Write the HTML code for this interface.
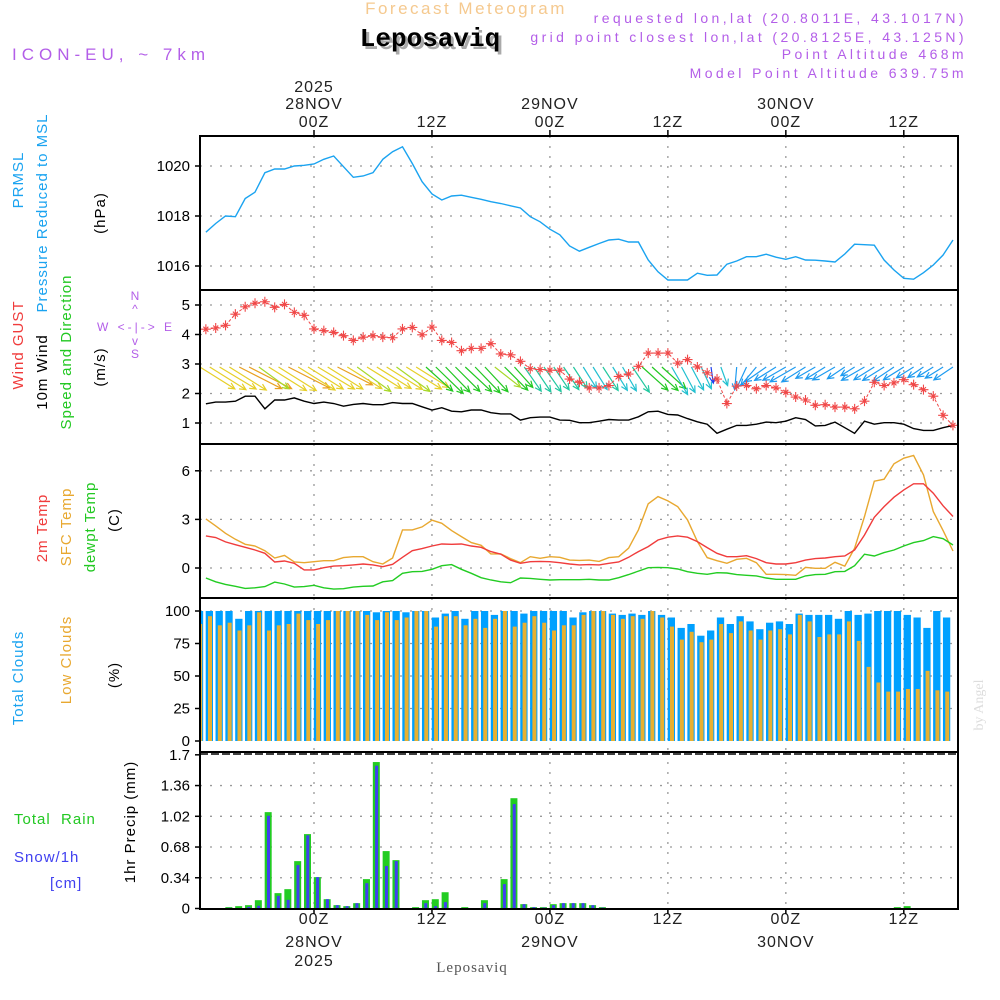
<!DOCTYPE html>
<html><head><meta charset="utf-8"><style>
html,body{margin:0;padding:0;background:#fff;}
svg{display:block;font-family:"Liberation Sans",sans-serif;}
.t{letter-spacing:1px;}
</style></head><body>
<svg id="chart" width="1000" height="1000" viewBox="0 0 1000 1000" xmlns="http://www.w3.org/2000/svg">
<rect width="1000" height="1000" fill="#fff"/>
<text x="466" y="14" font-size="17" fill="#f5c98f" text-anchor="middle" style="letter-spacing:2.5px">Forecast Meteogram</text>
<text x="433" y="49" font-size="26" font-weight="bold" fill="#aaa" text-anchor="middle" font-family="Liberation Mono, monospace">Leposaviq</text>
<text x="430" y="46" font-size="26" font-weight="bold" fill="#000" text-anchor="middle" font-family="Liberation Mono, monospace">Leposaviq</text>
<text x="12" y="60" font-size="17" fill="#b35ee8" style="letter-spacing:5px">ICON-EU, ~ 7km</text>
<g font-size="14" fill="#b35ee8" text-anchor="end" style="letter-spacing:3.4px">
<text x="967" y="23">requested lon,lat (20.8011E, 43.1017N)</text>
<text x="967" y="42">grid point closest lon,lat (20.8125E, 43.125N)</text>
<text x="967" y="59">Point Altitude 468m</text>
<text x="967" y="78">Model Point Altitude 639.75m</text>
</g>
<g id="axes"></g>
<g id="marks"></g>
<g font-size="15" class="t">
<text transform="translate(23,180) rotate(-90)" text-anchor="middle" fill="#1aa3f0">PRMSL</text>
<text transform="translate(47,213) rotate(-90)" text-anchor="middle" fill="#1aa3f0">Pressure Reduced to MSL</text>
<text transform="translate(105,213) rotate(-90)" text-anchor="middle" fill="#000">(hPa)</text>
<text transform="translate(23,345) rotate(-90)" text-anchor="middle" fill="#f03c3c">Wind GUST</text>
<text transform="translate(47,372) rotate(-90)" text-anchor="middle" fill="#000">10m Wind</text>
<text transform="translate(71,352) rotate(-90)" text-anchor="middle" fill="#22c822">Speed and Direction</text>
<text transform="translate(105,367) rotate(-90)" text-anchor="middle" fill="#000">(m/s)</text>
<text transform="translate(47,528) rotate(-90)" text-anchor="middle" fill="#f03c3c">2m Temp</text>
<text transform="translate(71,527) rotate(-90)" text-anchor="middle" fill="#e8a830">SFC Temp</text>
<text transform="translate(95,527) rotate(-90)" text-anchor="middle" fill="#22c822">dewpt Temp</text>
<text transform="translate(119,520) rotate(-90)" text-anchor="middle" fill="#000">(C)</text>
<text transform="translate(23,678) rotate(-90)" text-anchor="middle" fill="#1aa3f0">Total Clouds</text>
<text transform="translate(71,660) rotate(-90)" text-anchor="middle" fill="#e8a830">Low Clouds</text>
<text transform="translate(119,675) rotate(-90)" text-anchor="middle" fill="#000">(%)</text>
<text transform="translate(135,822) rotate(-90)" text-anchor="middle" fill="#000">1hr Precip (mm)</text>
<text x="14" y="824" fill="#22c822" xml:space="preserve">Total  Rain</text>
<text x="14" y="862" fill="#4040f0">Snow/1h</text>
<text x="50" y="888" fill="#4040f0">[cm]</text>
</g>
<g font-size="12" fill="#b35ee8" text-anchor="middle">
<text x="135" y="300">N</text>
<text x="135" y="313">^</text>
<text x="136" y="331" xml:space="preserve" style="letter-spacing:3px">W &lt;-|-&gt; E</text>
<text x="135" y="345">v</text>
<text x="135" y="358">S</text>
</g>
<text transform="translate(983,705) rotate(-90)" text-anchor="middle" font-size="14" fill="#ddd" font-family="Liberation Serif, serif">by Angel</text>
<text x="472" y="972" font-size="15" fill="#555" text-anchor="middle" font-family="Liberation Serif, serif" class="t">Leposaviq</text>
</svg>
<script>
const pressure=[1017.35,1017.7,1018.0,1017.97,1018.7,1018.95,1019.73,1019.88,1019.88,1020.0,1020.03,1020.08,1020.27,1020.4,1019.97,1019.55,1019.6,1019.73,1020.27,1020.57,1020.77,1020.1,1019.37,1018.88,1018.64,1018.8,1018.83,1018.75,1018.67,1018.57,1018.5,1018.41,1018.32,1017.97,1017.77,1017.47,1017.25,1016.8,1016.59,1016.75,1016.9,1017.04,1017.07,1016.96,1016.96,1016.24,1015.77,1015.44,1015.44,1015.44,1015.71,1015.63,1015.64,1016.07,1016.2,1016.37,1016.37,1016.47,1016.35,1016.27,1016.37,1016.24,1016.23,1016.2,1016.16,1016.48,1016.87,1016.85,1016.83,1016.24,1015.84,1015.51,1015.47,1015.73,1016.04,1016.44,1017.04];
const gust=[4.18,4.22,4.31,4.69,4.94,5.06,5.11,4.92,5.02,4.75,4.65,4.19,4.13,4.07,3.96,3.8,3.91,3.96,3.91,3.89,4.19,4.24,3.99,4.25,3.8,3.73,3.45,3.53,3.53,3.69,3.34,3.31,3.09,2.84,2.81,2.79,2.79,2.49,2.38,2.19,2.19,2.27,2.58,2.66,2.92,3.37,3.37,3.37,3.03,3.15,2.9,2.7,2.49,1.66,2.25,2.27,2.16,2.27,2.19,2.04,1.88,1.78,1.6,1.62,1.54,1.54,1.48,1.74,2.38,2.27,2.36,2.47,2.3,2.13,1.91,1.26,0.92];
const wind=[1.65,1.71,1.71,1.74,1.91,1.91,1.48,1.78,1.78,1.85,1.74,1.66,1.71,1.66,1.57,1.63,1.66,1.62,1.62,1.69,1.66,1.66,1.55,1.44,1.52,1.4,1.38,1.44,1.44,1.35,1.31,1.31,1.1,1.18,1.2,1.2,1.1,1.09,1.01,1.01,1.06,1.12,1.1,1.1,1.21,1.38,1.4,1.29,1.27,1.15,1.04,0.96,0.65,0.79,0.92,0.92,0.96,1.03,1.01,1.06,1.18,1.12,0.9,0.92,1.03,0.84,0.65,1.06,0.96,1.01,1.01,0.96,0.81,0.75,0.75,0.84,0.92];
const windBearing=[122,122,121,122,117,117,126,122,122,117,122,122,121,122,117,122,126,122,122,122,126,122,122,132,134,136,135,133,136,137,128,135,138,145,146,145,146,146,147,148,148,147,148,150,146,132,132,132,150,152,152,155,172,160,185,205,220,235,238,240,240,238,240,238,240,236,238,240,238,238,236,238,238,236,238,238,236];
const tempSfc=[3.03,2.6,2.14,1.77,1.46,1.36,1.07,0.62,0.78,0.37,0.33,0.39,0.45,0.45,0.64,0.7,0.7,0.39,0.25,0.62,2.35,2.35,2.54,2.95,2.76,2.31,1.94,1.57,1.4,0.87,0.87,0.58,0.33,0.7,0.6,0.7,0.66,0.49,0.47,0.49,0.41,0.64,0.7,1.22,2.35,3.96,4.41,4.14,3.79,2.97,1.63,0.64,0.45,0.29,0.54,0.6,0.33,-0.39,-0.39,-0.41,-0.45,0.04,-0.02,-0.02,0.35,0.12,1.22,3.18,5.36,5.48,6.43,6.78,6.95,5.75,3.48,2.31,1.05];
const temp2m=[1.98,1.88,1.61,1.44,1.28,1.11,0.91,0.37,0.43,0.29,-0.12,-0.12,0.02,0.12,0.14,0.19,0.25,0.19,0.08,0.23,0.66,1.07,1.2,1.36,1.48,1.46,1.48,1.36,1.28,1.01,0.85,0.49,0.29,0.39,0.41,0.39,0.33,0.25,0.19,0.21,0.19,0.29,0.37,0.66,1.01,1.32,1.73,1.9,1.98,1.9,1.63,1.26,0.91,0.7,0.7,0.76,0.58,0.33,0.25,0.25,0.33,0.49,0.58,0.62,0.7,0.74,1.11,2.04,3.13,3.79,4.37,4.82,5.2,5.2,4.62,3.84,3.18];
const dewpt=[-0.62,-0.85,-1.01,-1.13,-1.26,-1.22,-1.15,-0.87,-0.99,-1.18,-1.15,-1.07,-1.22,-1.3,-1.28,-1.18,-1.13,-1.11,-0.85,-0.78,-0.33,-0.23,-0.21,-0.08,0.14,0.21,-0.08,-0.33,-0.6,-0.74,-0.85,-0.91,-0.62,-0.64,-0.7,-0.74,-0.72,-0.72,-0.72,-0.7,-0.74,-0.74,-0.6,-0.41,-0.19,0.02,0.04,0.02,-0.06,-0.23,-0.33,-0.39,-0.29,-0.31,-0.41,-0.45,-0.49,-0.62,-0.7,-0.7,-0.7,-0.49,-0.41,-0.39,-0.23,-0.21,0.14,0.85,0.74,0.95,1.11,1.36,1.57,1.69,1.94,1.81,1.42];
const totalClouds=[100,100,100,100,94,100,100,100,100,100,100,100,100,100,100,100,100,100,99,100,100,99,100,100,95,98,100,94,100,100,97,100,100,98,100,100,100,100,95,99,100,100,98,97,98,97,100,97,95,87,90,81,85,95,90,96,92,86,91,92,90,98,97,97,97,94,100,97,98,100,100,100,97,95,87,100,95];
const lowClouds=[90,96,89,91,85,89,99,85,89,90,98,93,90,93,100,100,100,97,93,99,93,95,100,100,88,96,96,89,94,87,94,100,88,91,96,91,85,89,89,97,100,100,97,94,96,94,100,95,88,78,84,76,78,90,83,92,85,78,85,86,82,97,92,80,82,82,92,77,57,45,38,38,40,40,54,39,38];
const rain=[0,0,0,0.015,0.026,0.037,0.092,1.066,0.17,0.214,0.524,0.823,0.347,0.103,0.037,0.026,0.059,0.325,1.62,0.635,0.535,0.004,0.015,0.092,0.103,0.18,0,0.015,0,0.092,0.004,0.325,1.22,0.048,0.015,0.015,0.048,0.059,0.059,0.059,0.037,0.015,0.004,0.004,0,0,0,0,0,0,0,0,0,0,0,0,0,0,0,0,0,0,0,0,0,0,0,0,0,0,0,0.015,0.026,0,0,0,0];
const snow=[0,0,0,0.007,0.005,0.018,0.03,1.026,0.14,0.096,0.48,0.81,0.347,0.103,0.037,0.026,0.059,0.28,1.58,0.47,0.524,0.004,0,0.059,0.026,0.07,0,0,0,0.059,0.004,0.27,1.155,0.048,0.015,0.01,0.037,0.059,0.059,0.059,0.037,0.01,0.004,0.004,0,0,0,0,0,0,0,0,0,0,0,0,0,0,0,0,0,0,0,0,0,0,0,0,0,0,0,0,0,0,0,0,0];
const pressureTicks=[1020,1018,1016];
const windTicks=[5,4,3,2,1];
const tempTicks=[6,3,0];
const cloudTicks=[100,75,50,25,0];
const precipTicks=[1.7,1.36,1.02,0.68,0.34,0];
const precipTickLabels=["1.7","1.36","1.02","0.68","0.34","0"];
const timeTicksHours=[0,12,24,36,48,60];
const timeTopLabels=[["2025","28NOV","00Z"],["","","12Z"],["","29NOV","00Z"],["","","12Z"],["","30NOV","00Z"],["","","12Z"]];
const timeBottomLabels=[["00Z","28NOV","2025"],["12Z","",""],["00Z","29NOV",""],["12Z","",""],["00Z","30NOV",""],["12Z","",""]];
const firstHour=-11;

const NS="http://www.w3.org/2000/svg";
const L=200,R=958;
const xH=h=>314+9.83*h;
const xI=i=>xH(i+firstHour);
const yP=v=>166+(1020-v)*25;
const yW=v=>305+(5-v)*29.5;
const yT=v=>568-v*16.2;
const yC=v=>741-v*1.3;
const yR=v=>908.5-v*90.4;
const panels=[[136,290],[290,444],[444,598],[598,752],[752,909]];
const axes=document.getElementById('axes'),marks=document.getElementById('marks');
function el(tag,attrs,parent){const e=document.createElementNS(NS,tag);for(const k in attrs)e.setAttribute(k,attrs[k]);parent.appendChild(e);return e;}

const defs=el('defs',{},marks);
panels.forEach((p,k)=>{const c=el('clipPath',{id:'clip'+k},defs);el('rect',{x:L,y:p[0],width:R-L,height:p[1]-p[0]},c);});

const grid=el('g',{stroke:'#999','stroke-width':1.3,'stroke-dasharray':'2,8',fill:'none'},axes);


panels.forEach(p=>{timeTicksHours.forEach(h=>{el('line',{x1:xH(h),x2:xH(h),y1:p[0],y2:p[1]},grid);});});
function hgrid(vals,f){vals.forEach(v=>{const y=f(v);el('line',{x1:L,x2:R,y1:y,y2:y},grid);});}
hgrid(pressureTicks,yP);hgrid(windTicks,yW);hgrid(tempTicks,yT);hgrid([25,50,75,100],yC);hgrid([0.34,0.68,1.02,1.36],yR);

const yl=el('g',{'font-size':15,'text-anchor':'end',fill:'#000'},axes);


function ylab(vals,f,labels){vals.forEach((v,i)=>{const t=el('text',{x:190,y:f(v)+5},yl);t.textContent=labels?labels[i]:String(v);
el('line',{x1:L-5,x2:L,y1:f(v),y2:f(v),stroke:'#000','stroke-width':1.5},axes);});}
ylab(pressureTicks,yP);ylab(windTicks,yW);ylab(tempTicks,yT);ylab(cloudTicks,yC);ylab(precipTicks,yR,precipTickLabels);

const tl=el('g',{'font-size':16,'text-anchor':'middle',fill:'#222'},axes);


timeTicksHours.forEach((h,k)=>{
 const x=xH(h);
 [92,109,127].forEach((y,j)=>{if(timeTopLabels[k][j]){const t=el('text',{x:x,y:y,'letter-spacing':1},tl);t.textContent=timeTopLabels[k][j];}});
 [924,947,966].forEach((y,j)=>{if(timeBottomLabels[k][j]){const t=el('text',{x:x,y:y,'letter-spacing':1},tl);t.textContent=timeBottomLabels[k][j];}});
 el('line',{x1:x,x2:x,y1:130,y2:136,stroke:'#000','stroke-width':1.5},axes);
 el('line',{x1:x,x2:x,y1:909,y2:914,stroke:'#000','stroke-width':1.5},axes);
});

const cg=el('g',{'clip-path':'url(#clip3)'},marks);


totalClouds.forEach((v,i)=>{const x=xI(i)-10;
 const b=el('rect',{x:x,y:yC(v),width:7.3,height:yC(0)-yC(v),fill:'#00a0ff'},cg);
 
 
 const o=el('rect',{x:x+2.3,y:yC(lowClouds[i]),width:4,height:yC(0)-yC(lowClouds[i]),fill:'#e8b030'},cg);
 
 
});

const pg=el('g',{'clip-path':'url(#clip4)'},marks);


rain.forEach((v,i)=>{const x=xI(i)-10;
 if(v>0){const b=el('rect',{x:x,y:yR(v),width:7,height:yR(0)-yR(v),fill:'#22cc22'},pg);
 
 }
 if(snow[i]>0){const s=el('rect',{x:x+2.3,y:yR(snow[i]),width:3,height:yR(0)-yR(snow[i]),fill:'#4040f0'},pg);
 
 }
});

function line(arr,fx,fy,color,name,clip,extra){
 const p=el('polyline',Object.assign({points:arr.map((v,i)=>fx(i).toFixed(1)+','+fy(v).toFixed(1)).join(' '),fill:'none',stroke:color,'stroke-width':1.4,'clip-path':'url(#'+clip+')'},extra||{}),marks);
 
 
}
line(pressure,xI,yP,'#1aa3f0','pressure-line','clip0');
line(tempSfc,xI,yT,'#e8a830','sfc-temp-line','clip2');
line(temp2m,xI,yT,'#f03c3c','temp-2m-line','clip2');
line(dewpt,xI,yT,'#22cc22','dewpoint-line','clip2');

function arrowColor(b){if(b<119)return'#e8a020';if(b<125)return'#e6cf28';if(b<130)return'#a8d828';if(b<140)return'#22c822';if(b<148)return'#22c8a0';if(b<165)return'#22c0d0';if(b<180)return'#2040f0';return'#1e9bf0';}
const ag=el('g',{'clip-path':'url(#clip1)','stroke-width':1.2,fill:'none'},marks);


windBearing.forEach((b,i)=>{
 const len=25*wind[i],r=b*Math.PI/180;
 const dx=Math.sin(r)*len,dy=-Math.cos(r)*len;
 const x0=xI(i)-(dx>0?6:0),y0=367,x1=x0+dx,y1=y0+dy;
 const a=Math.atan2(dy,dx),h=7;
 const c=arrowColor(b);
 const p=el('path',{d:`M${x0},${y0}L${x1},${y1}M${x1-h*Math.cos(a-0.45)},${y1-h*Math.sin(a-0.45)}L${x1},${y1}L${x1-h*Math.cos(a+0.45)},${y1-h*Math.sin(a+0.45)}`,stroke:c},ag);
 
 
});
line(wind,xI,yW,'#000','wind-speed-line','clip1');
line(gust,xI,yW,'#f04848','gust-line','clip1',{'stroke-dasharray':'3,2','stroke-width':1});
const gm=el('g',{stroke:'#f04848','stroke-width':1.1,'clip-path':'url(#clip1)'},marks);


gust.forEach((v,i)=>{const x=xI(i),y=yW(v);
 const m=el('path',{d:`M${x-5},${y}H${x+5}M${x},${y-5}V${y+5}M${x-2.5},${y-2.5}L${x+2.5},${y+2.5}M${x-2.5},${y+2.5}L${x+2.5},${y-2.5}`},gm);
 
 
});

const fr=el('g',{fill:'none',stroke:'#000','stroke-width':2},marks);


panels.forEach(p=>{el('rect',{x:L,y:p[0],width:R-L,height:p[1]-p[0]},fr);});
el('line',{x1:L,x2:R,y1:754,y2:754,'stroke-dasharray':'8,3','stroke-width':1.5},fr);
</script>
</body></html>
